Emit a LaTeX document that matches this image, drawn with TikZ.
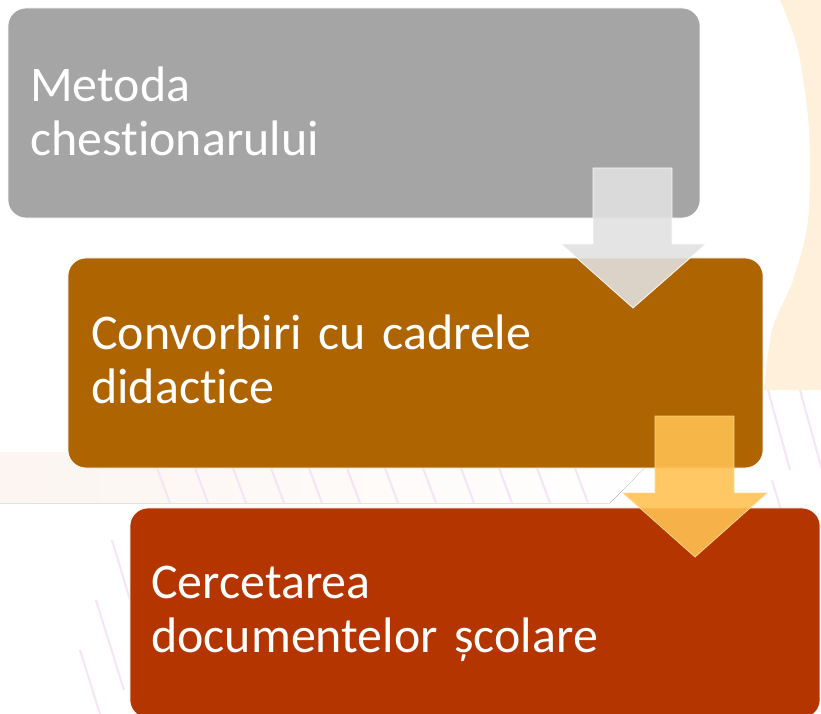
\documentclass[tikz,border=0pt]{standalone}
\usepackage{fontspec}
\setmainfont{Carlito}[RawFeature={-liga;-clig;-dlig;-calt}]
\usepackage{tikz}

\definecolor{boxgray}{HTML}{A5A5A5}
\definecolor{boxbrown}{HTML}{AE6400}
\definecolor{boxred}{HTML}{B43500}
\definecolor{arrgray}{HTML}{E1E1E1}
\definecolor{arrorange}{HTML}{FFC151}
\definecolor{ringbeige}{HTML}{FEF0DA}
\definecolor{bandpink}{HTML}{FCF5F1}
\definecolor{bandbeige}{HTML}{FCEEDD}
\definecolor{stripe}{HTML}{F4E6F2}

\begin{document}
\begin{tikzpicture}[x=0.025cm,y=-0.025cm,
    stepbox/.style={rounded corners=0.45cm,draw=white,line width=0.6pt,
      minimum width=#1,minimum height=5.25cm,inner sep=0pt},
    boxtext/.style={text=white,anchor=base west,inner sep=0pt,align=left,
      text width=16cm,font=\fontsize{35.5}{38.4}\selectfont},
    blockarrow/.style={line width=0.6pt,opacity=0.89},
    bgstripe/.style={stripe,line width=1.5pt}]
        \useasboundingbox (0,0) rectangle (821,714);
        % background
        \begin{scope}
        \clip (0,0) rectangle (821,714);
        \fill[ringbeige] plot[smooth] coordinates {(780,0) (798,50) (809,130) (808,220)
          (793,280) (772,330) (764,390)} -- (821,390) -- (821,0) -- cycle;
        \fill[left color=bandpink,middle color=bandbeige,right color=white] (0,452)
          -- (660,452) -- (610,503) -- (0,503) -- cycle;
        \foreach \sx in {157,195,...,600}
          \draw[bgstripe] (\sx,468) -- (\sx+13,503);
        \foreach \sx in {768,800}
          \draw[bgstripe] (\sx,390) -- (\sx+22,470);
        \draw[bgstripe] (772,480) -- (790,540);
        \draw[bgstripe] (112,540) -- (130,600);
        \draw[bgstripe] (96,600) -- (124,690);
        \draw[bgstripe] (80,650) -- (100,714);
        \end{scope}
        % boxes
        \node[stepbox=17.3cm,fill=boxgray] (box1) at (354,113) {};
        \node[stepbox=17.375cm,fill=boxbrown] (box2) at (415.5,363) {};
        \node[stepbox=17.25cm,fill=boxred] (box3) at (475,613) {};
        % arrows
        \fill[blockarrow,arrgray,draw=white] (593,168) -- (672,168) -- (672,244) -- (706,244)
          -- (633,308) -- (561,244) -- (593,244) -- cycle;
        \fill[blockarrow,arrorange,draw=arrorange!60!white] (655,416) -- (734,416) -- (734,493)
          -- (767,493) -- (695,557) -- (623,493) -- (655,493) -- cycle;
        % texts
        \node[boxtext] (t1) at (30,102) {Metoda\\chestionarului};
        \node[boxtext] (t2) at (91,350) {Convorbiri cu cadrele\\didactice};
        \node[boxtext] (t3) at (151,598) {Cercetarea\\documentelor școlare};
\end{tikzpicture}
\end{document}
